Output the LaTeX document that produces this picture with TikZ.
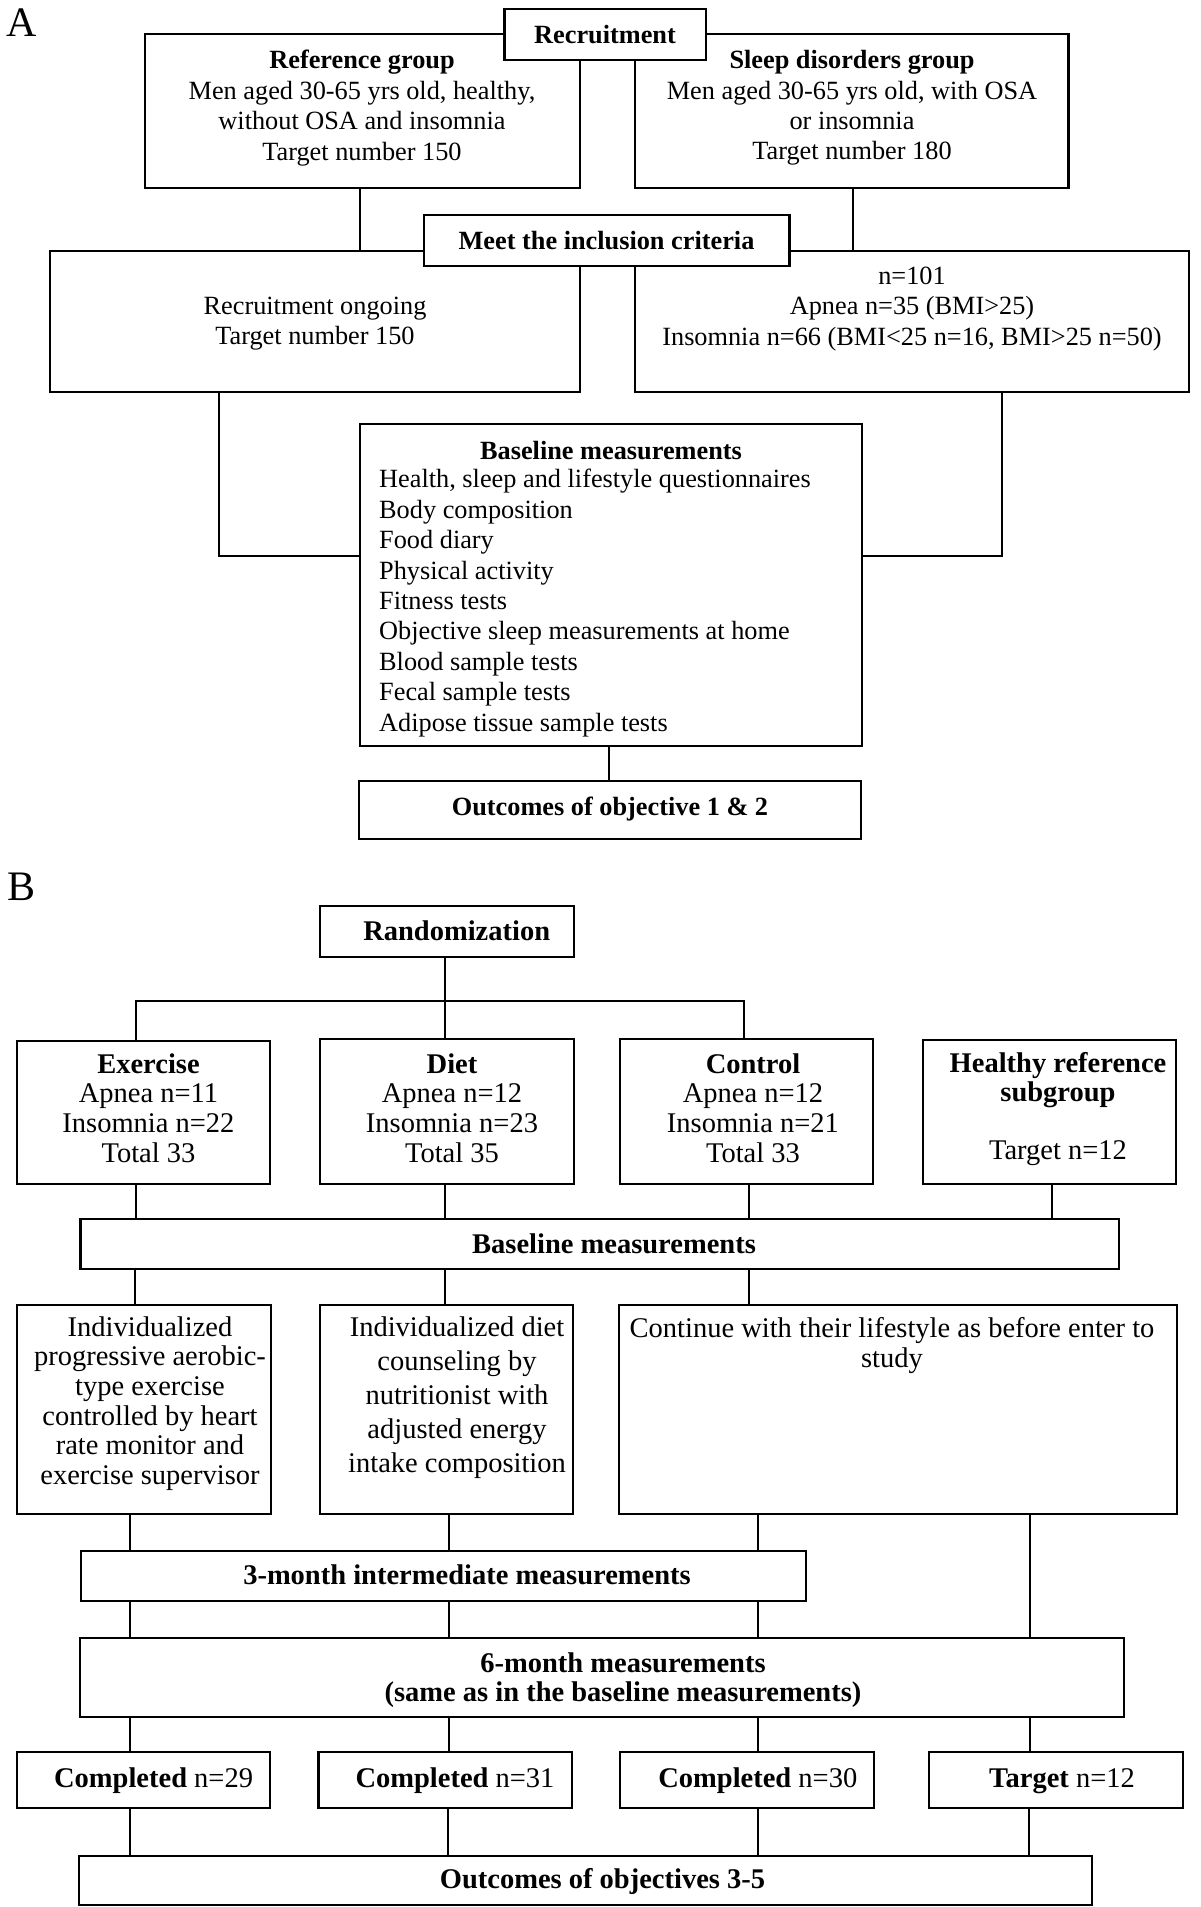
\documentclass[tikz,border=0pt]{standalone}
\usepackage{fontspec}
\setmainfont{Liberation Serif}
\usetikzlibrary{fit}
\newcommand\fA{\fontsize{26.3}{30.4}\selectfont}
\newcommand\fB{\fontsize{28.5}{29.6}\selectfont}
\newcommand\fBd{\fontsize{28.5}{34}\selectfont}
\newcommand\fL{\fontsize{42}{42}\selectfont}
\tikzset{
  box/.style={draw=black, line width=2.2pt, fill=white, inner sep=0pt, rectangle},
  txt/.style={inner sep=0pt, align=center},
  conn/.style={line width=2pt}
}
\begin{document}
\begin{tikzpicture}[x=1pt,y=-1pt]
\useasboundingbox[fill=white] (0,0) rectangle (1200,1907);
% ---------- Panel A ----------
\node[txt,font=\fL] (labA) at (22,23) {A};
\node[box, fit={(144.7,34) (580.2,187.7)}] (refA) {};
\node[box, fit={(635.2,34) (1068.4,187.7)}] (sleepA) {};
\node[box, fit={(504.4,9.3) (705.6,60)}] (recA) {};
\node[box, fit={(49.8,250.7) (579.8,392.3)}] (leftA) {};
\node[box, fit={(635.2,250.7) (1188.6,392.3)}] (rightA) {};
\node[box, fit={(423.6,215.3) (789.4,266)}] (meetA) {};
\node[box, fit={(360,424) (861.8,745.7)}] (baseA) {};
\node[box, fit={(358.6,781) (861,839)}] (outA) {};

\node[txt,font=\fA\bfseries] (recAt) at (605,34.7) {Recruitment};
\node[txt,font=\fA] (refAt) at (362,108) {\textbf{Reference group}\\Men aged 30-65 yrs old, healthy,\\without OSA and insomnia\\Target number 150};
\node[txt,font=\fA] (sleepAt) at (852,108) {\textbf{Sleep disorders group}\\Men aged 30-65 yrs old, with OSA\\or insomnia\\Target number 180};
\node[txt,font=\fA\bfseries] (meetAt) at (606.5,241) {Meet the inclusion criteria};
\node[txt,font=\fA] (leftAt) at (315,323.5) {Recruitment ongoing\\Target number 150};
\node[txt,font=\fA] (rightAt) at (912,309) {n=101\\Apnea n=35 (BMI>25)\\Insomnia n=66 (BMI<25 n=16, BMI>25 n=50)};
\node[txt,font=\fA\bfseries] (baseAt) at (611,450.7) {Baseline measurements};
\node[txt,font=\fA,align=left,anchor=west] (baseAl) at (379,603) {Health, sleep and lifestyle questionnaires\\Body composition\\Food diary\\Physical activity\\Fitness tests\\Objective sleep measurements at home\\Blood sample tests\\Fecal sample tests\\Adipose tissue sample tests};
\node[txt,font=\fA\bfseries] (outAt) at (610,809) {Outcomes of objective 1 \& 2};

\draw[conn] (360,0 |- refA.south) -- (360,0 |- leftA.north);
\draw[conn] (852.6,0 |- sleepA.south) -- (852.6,0 |- rightA.north);
\draw[conn] (219,0 |- leftA.south) |- (baseA.west |- 0,556);
\draw[conn] (1001.8,0 |- rightA.south) |- (baseA.east |- 0,556);
\draw[conn] (609.2,0 |- baseA.south) -- (609.2,0 |- outA.north);

% ---------- Panel B ----------
\node[txt,font=\fL] (labB) at (22,887) {B};
\node[box, fit={(320,906) (574,956.7)}] (randB) {};
\node[box, fit={(16.8,1040.7) (270.2,1184.3)}] (exB) {};
\node[box, fit={(320,1039) (574,1184)}] (dietB) {};
\node[box, fit={(619.9,1039) (873.2,1184)}] (ctrlB) {};
\node[box, fit={(922.6,1040) (1176,1184)}] (healthyB) {};
\node[box, fit={(80.4,1219) (1118.6,1269)}] (baseB) {};
\node[box, fit={(16.8,1304.6) (271,1514)}] (exDet) {};
\node[box, fit={(319.6,1304.6) (573,1514)}] (dietDet) {};
\node[box, fit={(619,1304.6) (1176.7,1514)}] (ctrlDet) {};
\node[box, fit={(80.8,1551) (805.9,1600.8)}] (m3B) {};
\node[box, fit={(79.6,1637.6) (1124.3,1717)}] (m6B) {};
\node[box, fit={(16.8,1752) (270,1808)}] (compEx) {};
\node[box, fit={(318.4,1752) (572,1808)}] (compDiet) {};
\node[box, fit={(620,1752) (874,1808)}] (compCtrl) {};
\node[box, fit={(929,1752) (1182.8,1808)}] (compTgt) {};
\node[box, fit={(79,1855.6) (1091.8,1905)}] (outB) {};

\node[txt,font=\fB\bfseries] (randBt) at (456.7,930.7) {Randomization};
\node[txt,font=\fB] (exBt) at (148.5,1108) {\textbf{Exercise}\\Apnea n=11\\Insomnia n=22\\Total 33};
\node[txt,font=\fB] (dietBt) at (452,1108) {\textbf{Diet}\\Apnea n=12\\Insomnia n=23\\Total 35};
\node[txt,font=\fB] (ctrlBt) at (753,1108) {\textbf{Control}\\Apnea n=12\\Insomnia n=21\\Total 33};
\node[txt,font=\fB] (healthyBt) at (1058,1109) {\textbf{Healthy reference}\\\textbf{subgroup}\\[28pt]Target n=12};
\node[txt,font=\fB\bfseries] (baseBt) at (614,1244) {Baseline measurements};
\node[txt,font=\fB] (exDett) at (150,1403.5) {Individualized\\progressive aerobic-\\type exercise\\controlled by heart\\rate monitor and\\exercise supervisor};
\node[txt,font=\fBd] (dietDett) at (457,1398) {Individualized diet\\counseling by\\nutritionist with\\adjusted energy\\intake composition};
\node[txt,font=\fB] (ctrlDett) at (892,1345.5) {Continue with their lifestyle as before enter to\\study};
\node[txt,font=\fB\bfseries] (m3Bt) at (467,1575) {3-month intermediate measurements};
\node[txt,font=\fB\bfseries] (m6Bt) at (623,1680) {6-month measurements\\(same as in the baseline measurements)};
\node[txt,font=\fB] (compExt) at (153.6,1781) {\textbf{Completed} n=29};
\node[txt,font=\fB] (compDiett) at (455,1781) {\textbf{Completed} n=31};
\node[txt,font=\fB] (compCtrlt) at (757.8,1781) {\textbf{Completed} n=30};
\node[txt,font=\fB] (compTgtt) at (1062,1781) {\textbf{Target} n=12};
\node[txt,font=\fB\bfseries] (outBt) at (602.5,1881) {Outcomes of objectives 3-5};

% connectors B
\draw[conn] (444.7,0 |- randB.south) -- (444.7,0 |- dietB.north);
\draw[conn] (135.9,0 |- exB.north) -- (135.9,1000.7) -- (743.5,1000.7) -- (743.5,0 |- ctrlB.north);
\draw[conn] (135.9,0 |- exB.south) -- (135.9,0 |- baseB.north);
\draw[conn] (444.7,0 |- dietB.south) -- (444.7,0 |- baseB.north);
\draw[conn] (749.3,0 |- ctrlB.south) -- (749.3,0 |- baseB.north);
\draw[conn] (1051.6,0 |- healthyB.south) -- (1051.6,0 |- baseB.north);
\draw[conn] (135.1,0 |- baseB.south) -- (135.1,0 |- exDet.north);
\draw[conn] (444.7,0 |- baseB.south) -- (444.7,0 |- dietDet.north);
\draw[conn] (749.3,0 |- baseB.south) -- (749.3,0 |- ctrlDet.north);
\draw[conn] (130,0 |- exDet.south) -- (130,0 |- m3B.north);
\draw[conn] (449,0 |- dietDet.south) -- (449,0 |- m3B.north);
\draw[conn] (758,0 |- ctrlDet.south) -- (758,0 |- m3B.north);
\draw[conn] (1030,0 |- ctrlDet.south) -- (1030,0 |- m6B.north);
\draw[conn] (130,0 |- m3B.south) -- (130,0 |- m6B.north);
\draw[conn] (449,0 |- m3B.south) -- (449,0 |- m6B.north);
\draw[conn] (758,0 |- m3B.south) -- (758,0 |- m6B.north);
\draw[conn] (130,0 |- m6B.south) -- (130,0 |- compEx.north);
\draw[conn] (449,0 |- m6B.south) -- (449,0 |- compDiet.north);
\draw[conn] (758,0 |- m6B.south) -- (758,0 |- compCtrl.north);
\draw[conn] (1030,0 |- m6B.south) -- (1030,0 |- compTgt.north);
\draw[conn] (130,0 |- compEx.south) -- (130,0 |- outB.north);
\draw[conn] (448,0 |- compDiet.south) -- (448,0 |- outB.north);
\draw[conn] (758,0 |- compCtrl.south) -- (758,0 |- outB.north);
\draw[conn] (1029,0 |- compTgt.south) -- (1029,0 |- outB.north);
\end{tikzpicture}
\end{document}
